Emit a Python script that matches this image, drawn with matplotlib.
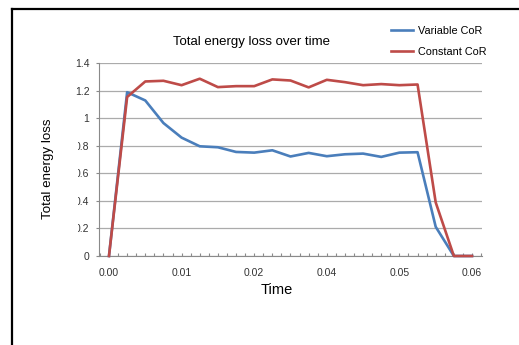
import matplotlib
matplotlib.use("Agg")
import matplotlib.pyplot as plt
from matplotlib.lines import Line2D
from matplotlib.transforms import Bbox, TransformedBbox

plt.rcParams['font.family'] = ['Liberation Sans', 'DejaVu Sans']

# ---- data ----
time = [0.000, 0.003, 0.006, 0.009, 0.012, 0.015, 0.018, 0.021, 0.024, 0.027,
        0.030, 0.033, 0.036, 0.039, 0.042, 0.045, 0.048, 0.051, 0.054, 0.057, 0.060]
variable_cor = [0, 1.19, 1.13, 0.966, 0.86, 0.797, 0.79, 0.756, 0.751, 0.768,
                0.723, 0.749, 0.725, 0.739, 0.744, 0.72, 0.751, 0.754, 0.212, 0, 0]
constant_cor = [0, 1.155, 1.268, 1.273, 1.241, 1.288, 1.227, 1.234, 1.234, 1.283,
                1.275, 1.225, 1.28, 1.263, 1.241, 1.249, 1.241, 1.246, 0.389, 0, 0]
series_names = ["Variable CoR", "Constant CoR"]
x_label_pos = [0.0, 0.012, 0.024, 0.036, 0.048, 0.060]
x_tick_labels = ["0.00", "0.01", "0.02", "0.04", "0.05", "0.06"]
x_minor_pos = [-0.0015 + 0.0015 * k for k in range(43)]
y_ticks = [0, 0.2, 0.4, 0.6, 0.8, 1.0, 1.2, 1.4]
y_tick_labels = ["0", "0.2", "0.4", "0.6", "0.8", "1", "1.2", "1.4"]

W, H = 519, 345
fig = plt.figure(figsize=(W / 100, H / 100), dpi=100)
fig.patch.set_facecolor('white')

ax_l, ax_r, ax_t, ax_b = 99.3, 481.7, 63.3, 256.0
ax = fig.add_axes([ax_l / W, 1 - ax_b / H, (ax_r - ax_l) / W, (ax_b - ax_t) / H])

blue = '#4a7ebb'
red = '#be4b48'
ax.plot(time, variable_cor, color=blue, lw=1.9, label=series_names[0], clip_on=False, zorder=3)
ax.plot(time, constant_cor, color=red, lw=1.9, label=series_names[1], clip_on=False, zorder=4)

ax.set_xlim(-0.0016, 0.0616)
ax.set_ylim(0, 1.4)

for s in ['top', 'right']:
    ax.spines[s].set_visible(False)
for s in ['left', 'bottom']:
    ax.spines[s].set_color('#8a8a8a')
    ax.spines[s].set_linewidth(0.8)

ax.set_yticks(y_ticks)
ax.set_yticklabels(y_tick_labels)
ax.grid(axis='y', color='#ababab', lw=0.9)
ax.set_axisbelow(True)
ax.tick_params(axis='y', direction='out', length=2.3, width=0.8, color='#8a8a8a',
               labelsize=7.5, labelcolor='#333333', pad=4.8)

ax.set_xticks(x_label_pos)
ax.set_xticklabels(x_tick_labels)
ax.set_xticks(x_minor_pos, minor=True)
ax.tick_params(axis='x', which='both', direction='in', length=2.3, width=0.8,
               color='#8a8a8a', labelsize=7.5, labelcolor='#333333', pad=9.0)

# the leading zero of the decimal y labels is cut off in the reference
clip = TransformedBbox(Bbox([[78.3 / W, 0], [1, 1]]), fig.transFigure)
for lbl in ax.get_yticklabels():
    if lbl.get_text().startswith("0."):
        lbl.set_clip_box(clip)
        lbl.set_clip_on(True)

ax.set_title("Total energy loss over time", fontsize=9.5, pad=0,
             x=(251.5 - ax_l) / (ax_r - ax_l), y=(ax_b - 42) / (ax_b - ax_t), va='center')
ax.set_ylabel("Total energy loss", fontsize=9.6)
ax.yaxis.label.set_va('center')
ax.yaxis.set_label_coords((47.5 - ax_l) / (ax_r - ax_l), (ax_b - 169) / (ax_b - ax_t))
ax.set_xlabel("Time", fontsize=10.5)
ax.xaxis.label.set_va('center')
ax.xaxis.set_label_coords((276.7 - ax_l) / (ax_r - ax_l), (ax_b - 290) / (ax_b - ax_t))

fig.legend(loc='upper left', bbox_to_anchor=(390.7 / W, 1 - 26 / H), frameon=False,
           fontsize=7.8, handlelength=2.1, handletextpad=0.4, labelspacing=1.0,
           borderpad=0, borderaxespad=0)

# outer chart border (partially visible)
fig.add_artist(Line2D([11.8 / W, 1], [1 - 8.5 / H, 1 - 8.5 / H], color='black', lw=1.6,
                      transform=fig.transFigure, solid_capstyle='projecting'))
fig.add_artist(Line2D([11.8 / W, 11.8 / W], [1 - 8.5 / H, 0], color='black', lw=1.6,
                      transform=fig.transFigure, solid_capstyle='projecting'))

fig.savefig("out.png", dpi=100, facecolor='white')
